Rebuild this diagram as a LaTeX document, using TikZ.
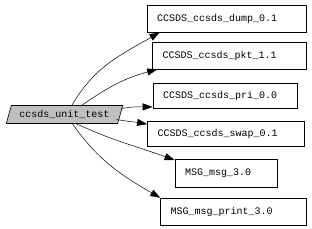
\documentclass[tikz,border=0pt]{standalone}
\usepackage{fontspec}
\setmonofont{Liberation Mono}
\usetikzlibrary{
    arrows.meta,
    calc,
    shapes.geometric
}
\tikzset{
  modbox/.style  = {draw, rectangle, font=\ttfamily\fontsize{10}{12}\selectfont,
                    inner xsep=10pt, inner ysep=0pt, align=left, line width=0.8pt},
  srcbox/.style  = {draw, trapezium, trapezium left angle=63,
                    trapezium right angle=117, trapezium stretches=true,
                    fill=lightgray, minimum width=117pt, minimum height=18pt,
                    inner sep=0pt, line width=0.6pt,
                    font=\ttfamily\fontsize{10}{12}\selectfont},
  arr/.style     = {-{Triangle[length=10pt,width=7pt]}, line width=0.5pt}
}

\begin{document}
\begin{tikzpicture}[x=1pt, y=1pt]
  \useasboundingbox (0,0) rectangle (312,-228);

  \node[srcbox] (src) at (64.5,-114.5) {ccsds\_unit\_test};

  \node[modbox, text width=139pt, minimum height=27pt] (dump)  at (226.5,-18.5) {CCSDS\_ccsds\_dump\_0.1};
  \node[modbox, text width=134pt, minimum height=27pt] (pkt)   at (229.5,-55.5) {CCSDS\_ccsds\_pkt\_1.1};
  \node[modbox, text width=124pt, minimum height=25pt] (pri)   at (225,-96)     {CCSDS\_ccsds\_pri\_0.0};
  \node[modbox, text width=137pt, minimum height=25pt] (swap)  at (226,-134)    {CCSDS\_ccsds\_swap\_0.1};
  \node[modbox, text width=82pt,  minimum height=28pt] (msg)   at (226,-173.5)  {MSG\_msg\_3.0};
  \node[modbox, text width=126pt, minimum height=27pt] (print) at (233.7,-211.7) {MSG\_msg\_print\_3.0};

  % calls from the test
  \draw[arr] ($(src.north)+(7.5,0)$)  to[out=60, in=210]  ($(dump.south west)+(13,0)$);
  \draw[arr] ($(src.north)+(17.5,0)$) to[out=35, in=195]  ($(pkt.south west)+(5,0)$);
  \draw[arr] ($(src.east)+(1,6)$)     to[out=10, in=180]  ($(pri.south west)+(0,2)$);
  \draw[arr] ($(src.east)+(-4,-5)$)   to[out=-10, in=170] ($(swap.north west)+(0,-3)$);
  \draw[arr] ($(src.south)+(12,0)$)   to[out=-25, in=160] ($(msg.north west)+(0,-1)$);
  \draw[arr] ($(src.south)+(8,0)$)    to[out=-55, in=150] (print.north west);
\end{tikzpicture}
\end{document}
